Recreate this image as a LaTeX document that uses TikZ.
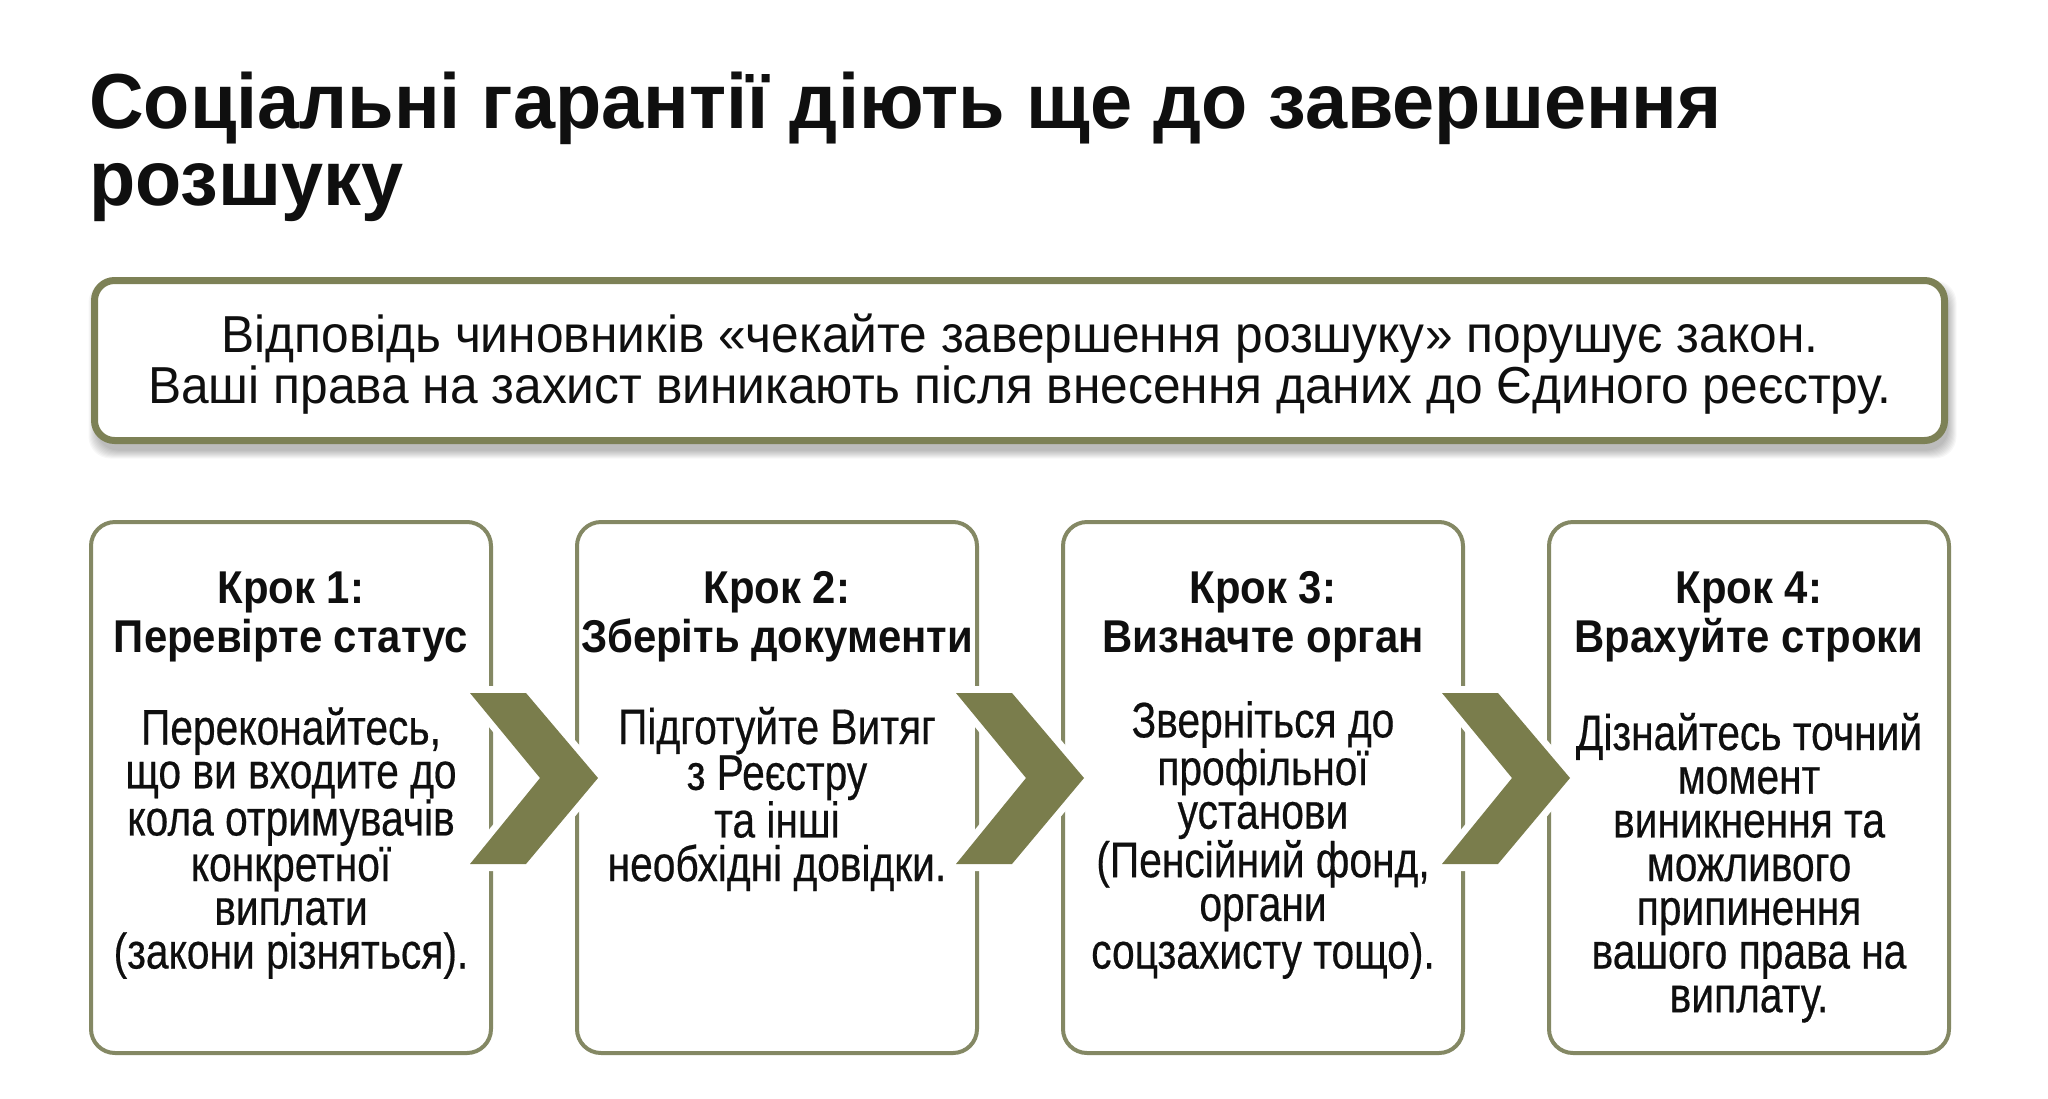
\documentclass[tikz,border=0pt]{standalone}
\usepackage{fontspec}
\setmainfont{Liberation Sans}
\newfontfamily\titlef{Liberation Sans}[FakeStretch=0.97]
\newfontfamily\hdrf{Liberation Sans}[FakeStretch=0.955]
\newfontfamily\steptf{Liberation Sans}[FakeStretch=0.91]
\newfontfamily\condf{Liberation Sans}[FakeStretch=0.815, FakeBold=0.4]
\usetikzlibrary{calc}
\definecolor{chev}{RGB}{122,125,76}
\definecolor{hdrline}{RGB}{125,129,86}
\definecolor{boxline}{RGB}{132,136,100}
\definecolor{ink}{RGB}{15,15,15}
\begin{document}
\begin{tikzpicture}[x=1pt,y=-1pt,
  stepbox/.style={draw=boxline, line width=4pt, rounded corners=24pt, fill=white,
    minimum width=400pt, minimum height=531pt, inner sep=0pt},
  steptitle/.style={anchor=base, align=center, inner sep=0pt, text=ink,
    font=\steptf\bfseries\fontsize{46}{49}\selectfont},
  stepbody/.style={anchor=base, align=center, inner sep=0pt, text=ink,
    font=\condf\fontsize{50}{43.7}\selectfont},
  chevron/.style={fill=chev, preaction={draw=white, line width=14pt, line join=miter}}]
\useasboundingbox (0,0) rectangle (2048,1098);
\fill[white] (0,0) rectangle (2048,1098);

% title (base anchor = baseline of last line)
\node[anchor=base west, align=left, inner sep=0pt, text=ink,
  font=\titlef\bfseries\fontsize{78}{77}\selectfont] (title) at (89,205)
  {Соціальні гарантії діють ще до завершення\\розшуку};

% header box with soft shadow
\foreach \i in {1,...,9}
  \fill[black, opacity=0.03, rounded corners=22pt]
    (94.5-\i+3, 280.5-\i+9) rectangle (1944.5+\i+3, 440.5+\i+9);
\node[draw=hdrline, line width=7pt, rounded corners=20pt, fill=white,
  minimum width=1850pt, minimum height=160pt, inner sep=0pt] (hdr) at (1019.5,360.5) {};
\node[anchor=base, align=center, inner sep=0pt, text=ink,
  font=\hdrf\fontsize{52}{51}\selectfont] (hdrtext) at (1020,403)
  {Відповідь чиновників «чекайте завершення розшуку» порушує закон.\\
   Ваші права на захист виникають після внесення даних до Єдиного реєстру.};

% step boxes
\node[stepbox] (s1) at (291,787.5) {};
\node[stepbox] (s2) at (777,787.5) {};
\node[stepbox] (s3) at (1263,787.5) {};
\node[stepbox] (s4) at (1749,787.5) {};

\node[steptitle] (t1) at (291,652) {Крок 1:\\Перевірте статус};
\node[steptitle] (t2) at (777,652) {Крок 2:\\Зберіть документи};
\node[steptitle] (t3) at (1263,652) {Крок 3:\\Визначте орган};
\node[steptitle] (t4) at (1749,652) {Крок 4:\\Врахуйте строки};

% body texts (base anchor = baseline of last line; first baseline at 750)
\node[stepbody] (b1) at (291,968.5) {Переконайтесь,\\що ви входите до\\кола отримувачів\\конкретної\\виплати\\(закони різняться).};
\node[stepbody] (b2) at (777,881.1) {Підготуйте Витяг\\з Реєстру\\та інші\\необхідні довідки.};
\node[stepbody] (b3) at (1263,968.5) {Зверніться до\\профільної\\установи\\(Пенсійний фонд,\\органи\\соцзахисту тощо).};
\node[stepbody] (b4) at (1749,1012.2) {Дізнайтесь точний\\момент\\виникнення та\\можливого\\припинення\\вашого права на\\виплату.};

% chevrons between steps
\foreach \a/\b in {s1/s2, s2/s3, s3/s4}{
  \coordinate (m) at ($(\a.east)!0.5!(\b.west)+(0,-9.5)$);
  \path[chevron] ($(m)+(-64,-85)$) -- ($(m)+(-8,-85)$) -- ($(m)+(64,0)$)
     -- ($(m)+(-8,86)$) -- ($(m)+(-64,86)$) -- ($(m)+(6,0)$) -- cycle;
}
\end{tikzpicture}
\end{document}
